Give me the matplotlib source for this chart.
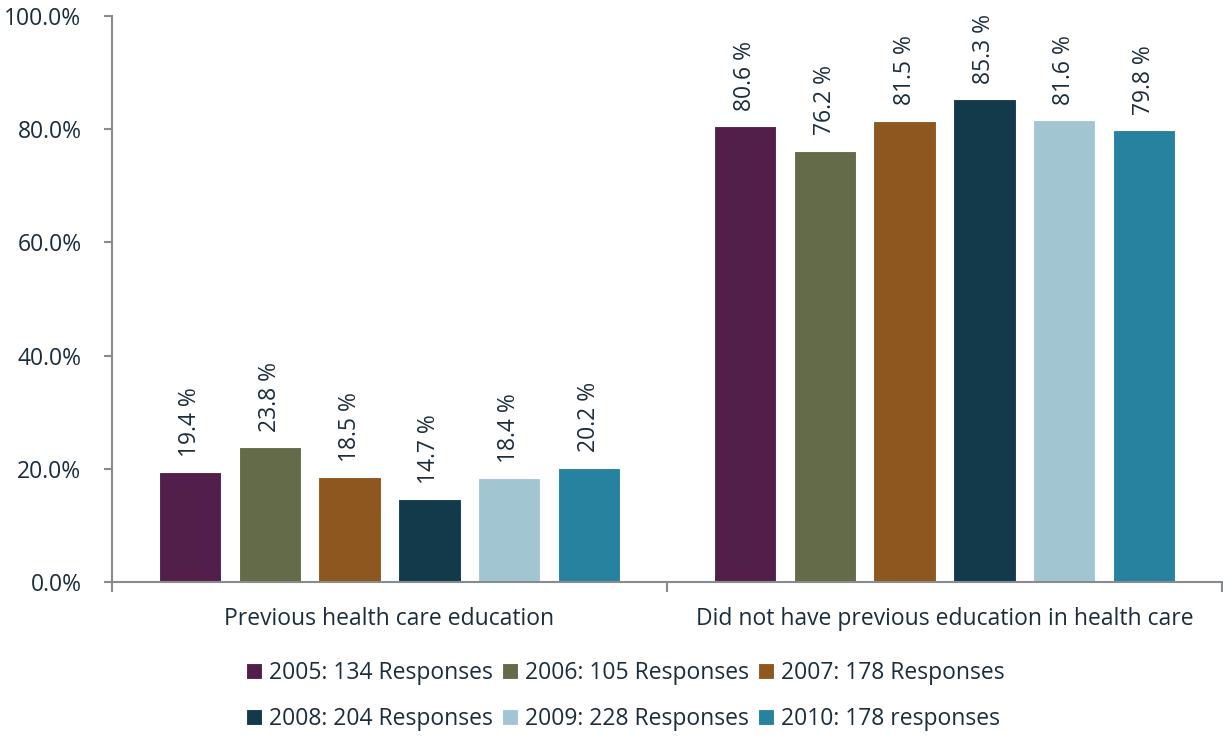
import matplotlib
matplotlib.use("Agg")
import matplotlib.pyplot as plt
import numpy as np
from matplotlib.ticker import FuncFormatter

categories = ["Previous health care education",
              "Did not have previous education in health care"]
series_labels = ["2005: 134 Responses", "2006: 105 Responses", "2007: 178 Responses",
                 "2008: 204 Responses", "2009: 228 Responses", "2010: 178 responses"]
values_2005 = [19.4, 80.6]
values_2006 = [23.8, 76.2]
values_2007 = [18.5, 81.5]
values_2008 = [14.7, 85.3]
values_2009 = [18.4, 81.6]
values_2010 = [20.2, 79.8]
series_values = [values_2005, values_2006, values_2007, values_2008, values_2009, values_2010]
colors = ["#521F4B", "#636B48", "#8E571F", "#133A4A", "#A1C6D2", "#26829F"]
text_color = "#1B2D3C"
FS = 16.5

plt.rcParams['font.family'] = ['Open Sans', 'DejaVu Sans']

fig = plt.figure(figsize=(12.23, 7.36), dpi=100)
ax = fig.add_axes([112/1223, 1-582/736, (1222-112)/1223, (582-16)/736])

x = np.arange(len(categories))
width = 0.112
pitch = 0.144
for i, (vals, col, lab) in enumerate(zip(series_values, colors, series_labels)):
    pos = x + (i - 2.5) * pitch
    bars = ax.bar(pos, vals, width=width, color=col, edgecolor="white", linewidth=0.8, label=lab)
    for b, v in zip(bars, vals):
        ax.annotate(f"{v:.1f} %", (b.get_x() + b.get_width()/2, v),
                    xytext=(0, 11), textcoords="offset points",
                    rotation=90, ha="center", va="bottom",
                    fontsize=FS, color=text_color)

ax.set_xlim(-0.5, 1.5)
ax.set_ylim(0, 100)
ax.set_yticks([0, 20, 40, 60, 80, 100])
ax.yaxis.set_major_formatter(FuncFormatter(lambda v, p: f"{v:.1f}%"))
ax.tick_params(axis="y", labelsize=FS, labelcolor=text_color, color="#888B8D",
               length=6, width=1.5, pad=16)

ax.set_xticks([-0.5, 0.5, 1.5])
ax.set_xticklabels([])
ax.set_xticks(x, minor=True)
ax.set_xticklabels(categories, minor=True)
ax.tick_params(axis="x", which="major", length=7, width=1.5, color="#888B8D")
ax.tick_params(axis="x", which="minor", length=0, pad=18, labelsize=FS, labelcolor=text_color)

for s in ["top", "right"]:
    ax.spines[s].set_visible(False)
for s in ["left", "bottom"]:
    ax.spines[s].set_color("#888B8D")
    ax.spines[s].set_linewidth(1.5)

handles, labels = ax.get_legend_handles_labels()
order = [0, 3, 1, 4, 2, 5]
fig.legend([handles[k] for k in order], [labels[k] for k in order],
           loc="center", bbox_to_anchor=(625/1223, 1-696/736),
           ncol=3, frameon=False, fontsize=FS, labelcolor=text_color,
           handlelength=0.7, handleheight=0.7, handletextpad=0.3, columnspacing=0.4,
           labelspacing=1.0)

fig.savefig("out.png", dpi=100)
